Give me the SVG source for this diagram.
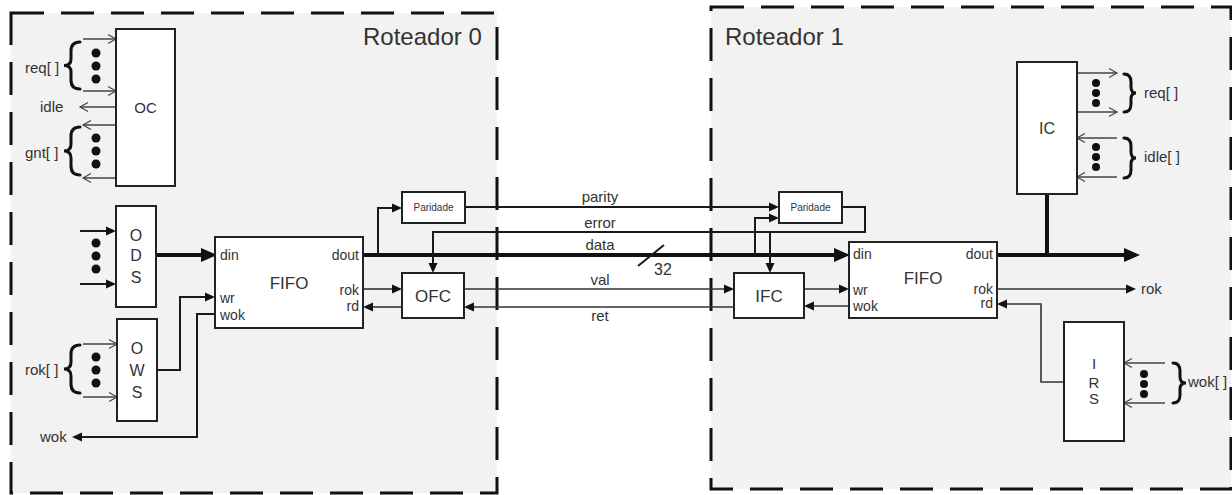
<svg xmlns="http://www.w3.org/2000/svg" width="1232" height="495" viewBox="0 0 1232 495">
<style>
.router{fill:#f2f2f2;stroke:#111;stroke-width:3;stroke-dasharray:33 17}
.box{fill:#fff;stroke:#222;stroke-width:2}
.t{font-family:"Liberation Sans",Arial,sans-serif;fill:#333}
.thin{fill:none;stroke:#444;stroke-width:1.3}
.med{fill:none;stroke:#1a1a1a;stroke-width:2}
.sig{fill:none;stroke:#333;stroke-width:1.6}
.thick{fill:none;stroke:#111;stroke-width:4}
.brace{fill:none;stroke:#111;stroke-width:3;stroke-linecap:round}
.dot{fill:#111}
</style>
<defs>
<marker id="aBig" markerUnits="userSpaceOnUse" markerWidth="16" markerHeight="16" refX="0" refY="8" orient="auto" overflow="visible"><path d="M0,1 L16,8 L0,15 z" fill="#111"/></marker>
<marker id="aFill" markerUnits="userSpaceOnUse" markerWidth="10" markerHeight="10" refX="0" refY="5" orient="auto" overflow="visible"><path d="M0,0.5 L10,5 L0,9.5 z" fill="#111"/></marker>
<marker id="aOpen" markerUnits="userSpaceOnUse" markerWidth="9" markerHeight="10" refX="8" refY="5" orient="auto" overflow="visible"><path d="M0,0.5 L8,5 L0,9.5" fill="none" stroke="#444" stroke-width="1.2"/></marker>
</defs>

<g id="router0">
<rect class="router" x="11" y="13" width="486" height="480"/>
<text class="t" x="363" y="45" font-size="24">Roteador 0</text>
</g>
<g id="router1">
<rect class="router" x="711" y="7" width="520" height="482"/>
<text class="t" x="725" y="45" font-size="24">Roteador 1</text>
</g>

<g id="connectors">
<!-- OC -->
<path class="thin" d="M83,39 H116" marker-end="url(#aOpen)"/>
<path class="thin" d="M83,91 H116" marker-end="url(#aOpen)"/>
<path class="thin" d="M116,107 H80" marker-end="url(#aOpen)"/>
<path class="thin" d="M116,125 H83" marker-end="url(#aOpen)"/>
<path class="thin" d="M116,178 H83" marker-end="url(#aOpen)"/>
<!-- ODS -->
<path class="med" d="M80,231 H106" marker-end="url(#aFill)"/>
<path class="med" d="M80,284 H106" marker-end="url(#aFill)"/>
<path class="thick" d="M156,255 H201" marker-end="url(#aBig)"/>
<!-- OWS -->
<path class="thin" d="M83,344 H117" marker-end="url(#aOpen)"/>
<path class="thin" d="M83,397 H117" marker-end="url(#aOpen)"/>
<path class="med" d="M157,370 H180 V297 H205" marker-end="url(#aFill)"/>
<path class="med" d="M215,314 H197 V437 H82" marker-end="url(#aFill)"/>
<!-- data -->
<path class="thick" d="M363,255 H834" marker-end="url(#aBig)"/>
<path class="med" d="M378,255 V208 H392" marker-end="url(#aFill)"/>
<path class="med" d="M465,207 H769" marker-end="url(#aFill)"/>
<path class="med" d="M755,255 V218 H769" marker-end="url(#aFill)"/>
<path class="med" d="M842,207 H865 V232 H433 V263" marker-end="url(#aFill)"/>
<path class="med" d="M770,232 V263" marker-end="url(#aFill)"/>
<path class="med" d="M638,266 L664,245"/>
<!-- handshake -->
<path class="sig" d="M363,289 H392" marker-end="url(#aFill)"/>
<path class="sig" d="M402,307 H373" marker-end="url(#aFill)"/>
<path class="sig" d="M464,289 H724" marker-end="url(#aFill)"/>
<path class="sig" d="M734,307 H474" marker-end="url(#aFill)"/>
<path class="sig" d="M804,289 H839" marker-end="url(#aFill)"/>
<path class="sig" d="M849,306 H814" marker-end="url(#aFill)"/>
<!-- right FIFO -->
<path class="thick" d="M997,255 H1124" marker-end="url(#aBig)"/>
<path class="thick" d="M1047,194 V255"/>
<path class="sig" d="M997,289 H1126" marker-end="url(#aFill)"/>
<path class="sig" d="M1064,382 H1041 V304 H1007" marker-end="url(#aFill)"/>
<!-- IRS -->
<path class="thin" d="M1165,363 H1124" marker-end="url(#aOpen)"/>
<path class="thin" d="M1165,403 H1124" marker-end="url(#aOpen)"/>
<!-- IC -->
<path class="thin" d="M1077,73 H1117" marker-end="url(#aOpen)"/>
<path class="thin" d="M1077,112 H1117" marker-end="url(#aOpen)"/>
<path class="thin" d="M1117,138 H1077" marker-end="url(#aOpen)"/>
<path class="thin" d="M1117,177 H1077" marker-end="url(#aOpen)"/>
</g>

<g id="labels">
<text class="t" x="25" y="73" font-size="15">req[ ]</text>
<text class="t" x="40" y="112" font-size="15">idle</text>
<text class="t" x="25" y="158" font-size="15">gnt[ ]</text>
<text class="t" x="25" y="375" font-size="15">rok[ ]</text>
<text class="t" x="40" y="442" font-size="15">wok</text>
<text class="t" x="600" y="202" font-size="15" text-anchor="middle">parity</text>
<text class="t" x="600" y="228" font-size="15" text-anchor="middle">error</text>
<text class="t" x="600" y="250" font-size="15" text-anchor="middle">data</text>
<text class="t" x="663" y="275" font-size="16" text-anchor="middle" fill="#111">32</text>
<text class="t" x="600" y="285" font-size="15" text-anchor="middle">val</text>
<text class="t" x="600" y="321" font-size="15" text-anchor="middle">ret</text>
<text class="t" x="1141" y="294" font-size="15">rok</text>
<text class="t" x="1144" y="98" font-size="15">req[ ]</text>
<text class="t" x="1144" y="162" font-size="15">idle[ ]</text>
<text class="t" x="1188" y="387" font-size="15">wok[ ]</text>
</g>

<g id="braces">
<path class="brace" d="M80,42 Q71,42 71,51 V59 Q71,65.5 64,65.5 Q71,65.5 71,72 V80 Q71,89 80,89"/>
<path class="brace" d="M80,127 Q71,127 71,136 V144 Q71,151 64,151 Q71,151 71,158 V166 Q71,175 80,175"/>
<path class="brace" d="M80,345 Q71,345 71,354 V362 Q71,369 64,369 Q71,369 71,376 V384 Q71,393 80,393"/>
<path class="brace" d="M1124,74 Q1131,74 1131,82 V87 Q1131,93 1136,93 Q1131,93 1131,99 V104 Q1131,112 1124,112"/>
<path class="brace" d="M1124,138 Q1131,138 1131,146 V152 Q1131,158 1136,158 Q1131,158 1131,164 V170 Q1131,178 1124,178"/>
<path class="brace" d="M1173,363 Q1180,363 1180,371 V377 Q1180,383 1186,383 Q1180,383 1180,389 V395 Q1180,403 1173,403"/>
</g>

<g id="dots">
<circle class="dot" cx="96" cy="53" r="4.5"/><circle class="dot" cx="96" cy="66" r="4.5"/><circle class="dot" cx="96" cy="79" r="4.5"/>
<circle class="dot" cx="96" cy="138" r="4.5"/><circle class="dot" cx="96" cy="151" r="4.5"/><circle class="dot" cx="96" cy="164" r="4.5"/>
<circle class="dot" cx="96" cy="243" r="4.5"/><circle class="dot" cx="96" cy="256" r="4.5"/><circle class="dot" cx="96" cy="269" r="4.5"/>
<circle class="dot" cx="96" cy="357" r="4.5"/><circle class="dot" cx="96" cy="370" r="4.5"/><circle class="dot" cx="96" cy="383" r="4.5"/>
<circle class="dot" cx="1096" cy="83" r="4"/><circle class="dot" cx="1096" cy="93" r="4"/><circle class="dot" cx="1096" cy="103" r="4"/>
<circle class="dot" cx="1096" cy="147" r="4"/><circle class="dot" cx="1096" cy="157" r="4"/><circle class="dot" cx="1096" cy="167" r="4"/>
<circle class="dot" cx="1144" cy="374" r="4"/><circle class="dot" cx="1144" cy="384" r="4"/><circle class="dot" cx="1144" cy="394" r="4"/>
</g>

<g id="OC">
<rect class="box" x="116" y="29" width="59" height="157"/>
<text class="t" x="145.5" y="113" font-size="15" text-anchor="middle">OC</text>
</g>
<g id="ODS">
<rect class="box" x="116" y="206" width="40" height="101"/>
<text class="t" x="136" y="240.5" font-size="16" text-anchor="middle">O</text>
<text class="t" x="136" y="261" font-size="16" text-anchor="middle">D</text>
<text class="t" x="136" y="282.5" font-size="16" text-anchor="middle">S</text>
</g>
<g id="OWS">
<rect class="box" x="117" y="319" width="40" height="102"/>
<text class="t" x="137" y="353.5" font-size="16" text-anchor="middle">O</text>
<text class="t" x="137" y="375.5" font-size="16" text-anchor="middle">W</text>
<text class="t" x="137" y="397.5" font-size="16" text-anchor="middle">S</text>
</g>
<g id="FIFO0">
<rect class="box" x="215" y="237" width="148" height="91"/>
<text class="t" x="289" y="289" font-size="17" text-anchor="middle">FIFO</text>
<text class="t" x="220" y="260" font-size="14">din</text>
<text class="t" x="220" y="303" font-size="14">wr</text>
<text class="t" x="220" y="320" font-size="14">wok</text>
<text class="t" x="359" y="260" font-size="14" text-anchor="end">dout</text>
<text class="t" x="359" y="295" font-size="14" text-anchor="end">rok</text>
<text class="t" x="359" y="311" font-size="14" text-anchor="end">rd</text>
</g>
<g id="Paridade0">
<rect class="box" x="402" y="192" width="63" height="31"/>
<text class="t" x="433.5" y="211" font-size="10" text-anchor="middle">Paridade</text>
</g>
<g id="OFC">
<rect class="box" x="402" y="273" width="62" height="45"/>
<text class="t" x="433" y="302" font-size="17" text-anchor="middle">OFC</text>
</g>
<g id="Paridade1">
<rect class="box" x="779" y="192" width="63" height="31"/>
<text class="t" x="810.5" y="211" font-size="10" text-anchor="middle">Paridade</text>
</g>
<g id="IFC">
<rect class="box" x="734" y="273" width="70" height="45"/>
<text class="t" x="769" y="302" font-size="17" text-anchor="middle">IFC</text>
</g>
<g id="FIFO1">
<rect class="box" x="849" y="242" width="148" height="76"/>
<text class="t" x="923" y="284" font-size="17" text-anchor="middle">FIFO</text>
<text class="t" x="853" y="259" font-size="14">din</text>
<text class="t" x="853" y="295" font-size="14">wr</text>
<text class="t" x="853" y="311" font-size="14">wok</text>
<text class="t" x="993" y="259" font-size="14" text-anchor="end">dout</text>
<text class="t" x="993" y="294" font-size="14" text-anchor="end">rok</text>
<text class="t" x="993" y="308" font-size="14" text-anchor="end">rd</text>
</g>
<g id="IC">
<rect class="box" x="1017" y="62" width="60" height="132"/>
<text class="t" x="1047" y="134" font-size="16" text-anchor="middle">IC</text>
</g>
<g id="IRS">
<rect class="box" x="1064" y="322" width="60" height="119"/>
<text class="t" x="1094" y="368.5" font-size="15" text-anchor="middle">I</text>
<text class="t" x="1094" y="387.5" font-size="15" text-anchor="middle">R</text>
<text class="t" x="1094" y="403.5" font-size="15" text-anchor="middle">S</text>
</g>
</svg>
